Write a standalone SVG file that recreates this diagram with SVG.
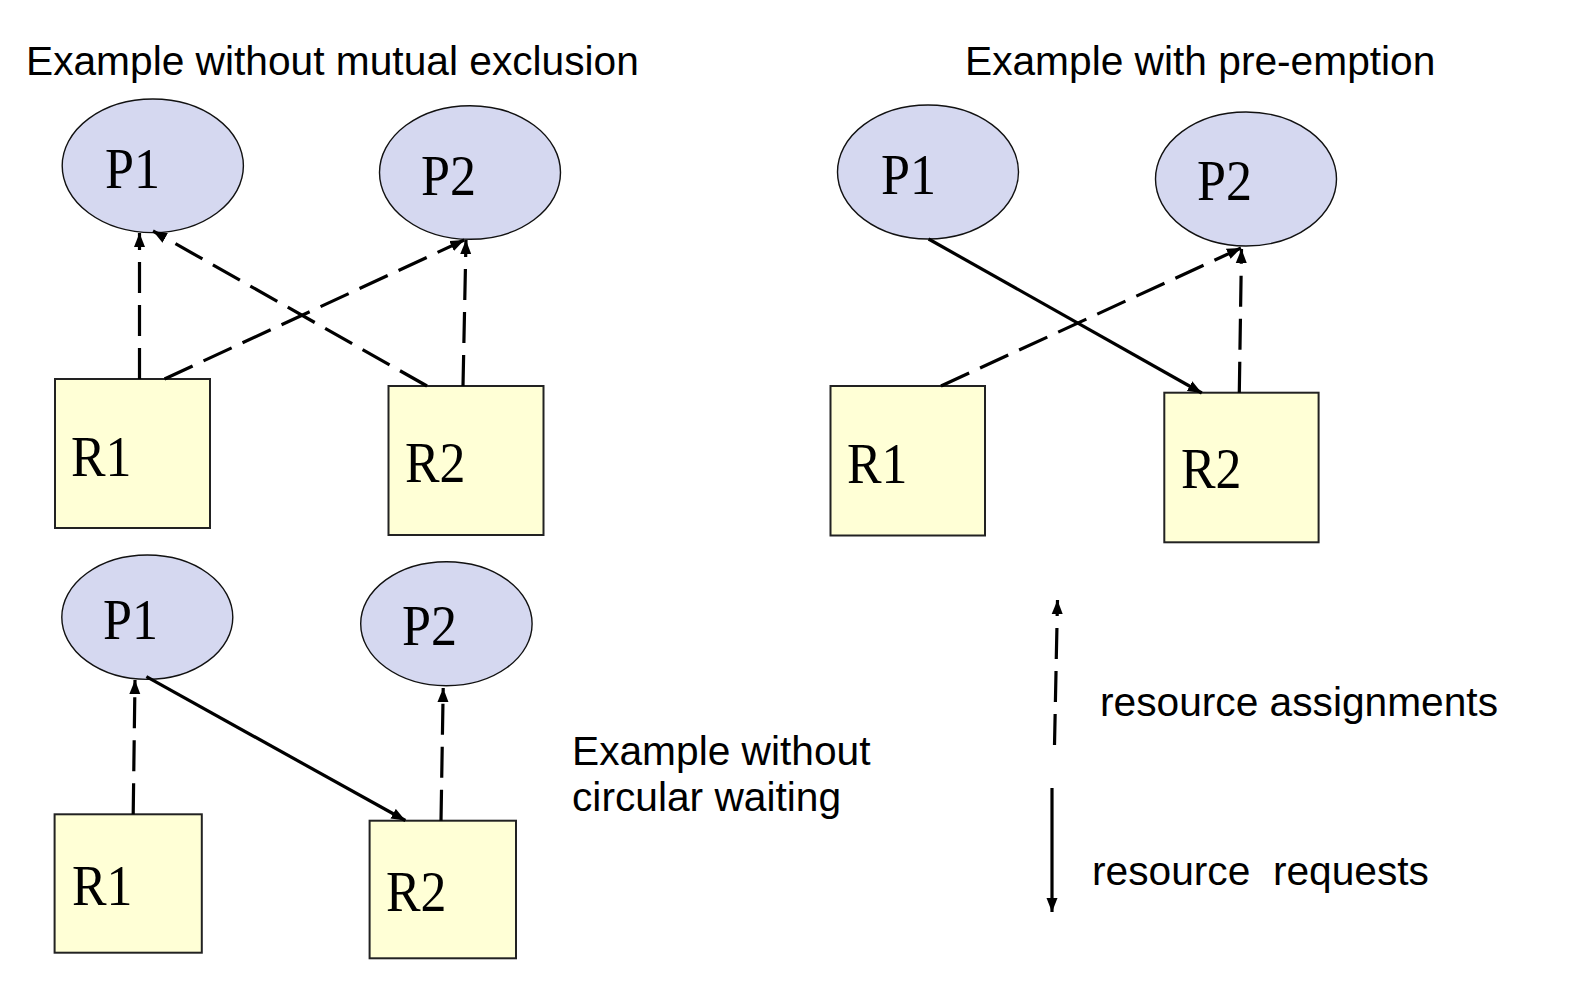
<svg xmlns="http://www.w3.org/2000/svg" width="1585" height="1000" viewBox="0 0 1585 1000">
<style>
.proc{fill:#d5d8f0;stroke:#111;stroke-width:1.4}
.res{fill:#ffffd6;stroke:#222;stroke-width:2}
.lbl{font-family:"Liberation Serif","Times New Roman",serif;font-size:57px;fill:#000}
.txt{font-family:"Liberation Sans",Arial,sans-serif;font-size:40.7px;fill:#000;white-space:pre}
.dash{stroke:#000;stroke-width:3.2;fill:none;stroke-dasharray:31 12;marker-end:url(#ah)}
.solid{stroke:#000;stroke-width:3.2;fill:none;marker-end:url(#ah)}
</style>
<defs>
<marker id="ah" markerUnits="userSpaceOnUse" markerWidth="15" markerHeight="12" refX="14" refY="6" orient="auto">
<path d="M0,0.5 L14,6 L0,11.5 Z" fill="#000"/>
</marker>
</defs>
<rect width="1585" height="1000" fill="#fff"/>

<g id="titles">
<text class="txt" x="26" y="75">Example without mutual exclusion</text>
<text class="txt" x="965" y="75">Example with pre-emption</text>
<text class="txt" x="572" y="765">Example without</text>
<text class="txt" x="572" y="811">circular waiting</text>
</g>

<!-- Top-left: without mutual exclusion -->
<g id="a-P1"><ellipse class="proc" cx="152.8" cy="165.8" rx="90.6" ry="66.8"/><text class="lbl" x="105" y="188" textLength="55" lengthAdjust="spacingAndGlyphs">P1</text></g>
<g id="a-P2"><ellipse class="proc" cx="470" cy="172.5" rx="90.5" ry="66.8"/><text class="lbl" x="421" y="195" textLength="55" lengthAdjust="spacingAndGlyphs">P2</text></g>
<g id="a-R1"><rect class="res" x="55" y="379" width="155" height="149"/><text class="lbl" x="71" y="476" textLength="60.5" lengthAdjust="spacingAndGlyphs">R1</text></g>
<g id="a-R2"><rect class="res" x="388.5" y="386" width="155" height="149"/><text class="lbl" x="405" y="482" textLength="60.5" lengthAdjust="spacingAndGlyphs">R2</text></g>

<!-- Top-right: with pre-emption -->
<g id="b-P1"><ellipse class="proc" cx="928" cy="172" rx="90.5" ry="67"/><text class="lbl" x="881" y="194" textLength="55" lengthAdjust="spacingAndGlyphs">P1</text></g>
<g id="b-P2"><ellipse class="proc" cx="1246" cy="179" rx="90.5" ry="67"/><text class="lbl" x="1197" y="200" textLength="55" lengthAdjust="spacingAndGlyphs">P2</text></g>
<g id="b-R1"><rect class="res" x="830.5" y="386" width="154.5" height="149.5"/><text class="lbl" x="847" y="483" textLength="60.5" lengthAdjust="spacingAndGlyphs">R1</text></g>
<g id="b-R2"><rect class="res" x="1164.3" y="392.7" width="154.3" height="149.6"/><text class="lbl" x="1181" y="488" textLength="60.5" lengthAdjust="spacingAndGlyphs">R2</text></g>

<!-- Bottom-left: without circular waiting -->
<g id="c-P1"><ellipse class="proc" cx="147.3" cy="617.2" rx="85.5" ry="62.2"/><text class="lbl" x="103" y="639" textLength="55" lengthAdjust="spacingAndGlyphs">P1</text></g>
<g id="c-P2"><ellipse class="proc" cx="446.4" cy="623.7" rx="85.7" ry="62"/><text class="lbl" x="402" y="645" textLength="55" lengthAdjust="spacingAndGlyphs">P2</text></g>
<g id="c-R1"><rect class="res" x="54.6" y="814.3" width="147.2" height="138.4"/><text class="lbl" x="72" y="905" textLength="60.5" lengthAdjust="spacingAndGlyphs">R1</text></g>
<g id="c-R2"><rect class="res" x="369.6" y="820.7" width="146.4" height="137.6"/><text class="lbl" x="386" y="911" textLength="60.5" lengthAdjust="spacingAndGlyphs">R2</text></g>

<g id="connectors">
<line class="dash" x1="139.5" y1="379" x2="139.5" y2="233"/>
<line class="dash" x1="427" y1="386" x2="153" y2="231"/>
<line class="dash" x1="164.5" y1="379" x2="464.3" y2="240"/>
<line class="dash" x1="463" y1="386" x2="466" y2="240"/>

<line class="solid" x1="928.6" y1="239" x2="1201.8" y2="393"/>
<line class="dash" x1="941" y1="386" x2="1241" y2="248"/>
<line class="dash" x1="1239.3" y1="392.7" x2="1241.5" y2="249"/>

<line class="dash" x1="133.2" y1="814.3" x2="135" y2="680"/>
<line class="solid" x1="146.4" y1="676.7" x2="405.4" y2="820.5"/>
<line class="dash" x1="441" y1="820.7" x2="443.2" y2="688"/>

<line class="dash" x1="1054.5" y1="745" x2="1057.5" y2="600"/>
<line class="solid" x1="1052" y1="788" x2="1052" y2="912"/>
</g>

<g id="legend">
<text class="txt" x="1100" y="716">resource assignments</text>
<text class="txt" x="1092" y="885">resource  requests</text>
</g>
</svg>
